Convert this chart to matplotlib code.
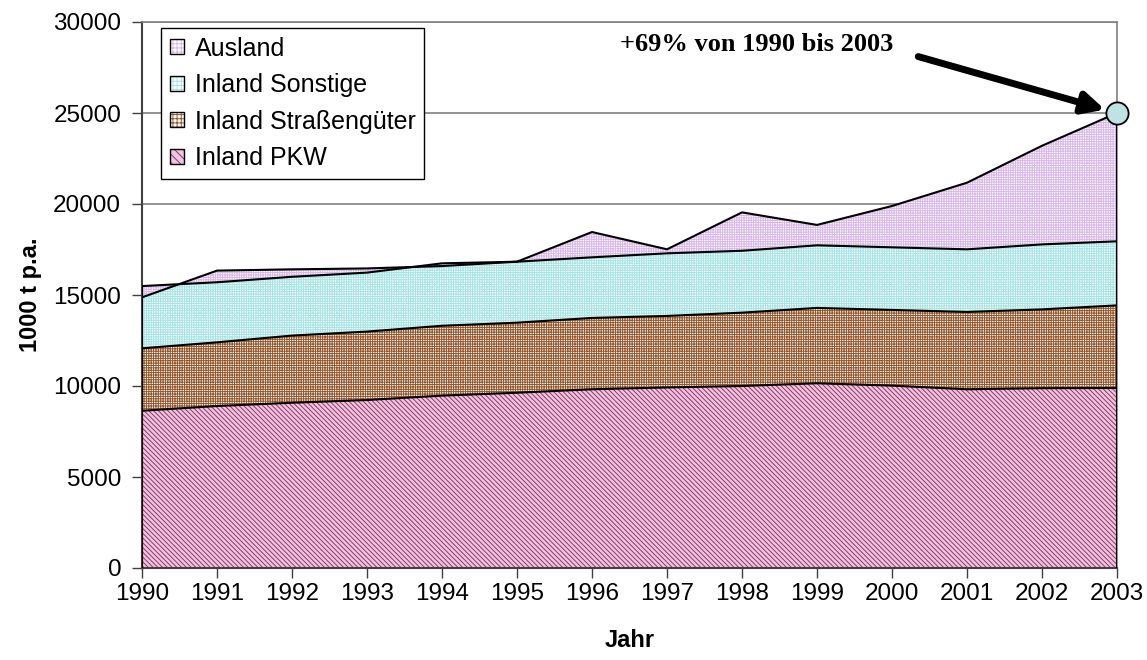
import numpy as np
import matplotlib
matplotlib.use('Agg')
import matplotlib.pyplot as plt
from matplotlib.patches import Patch

# Werte in 1000 t p.a.
years = list(range(1990, 2004))
pkw = [8640, 8900, 9080, 9230, 9470, 9630, 9820, 9920, 10000, 10150, 10020, 9820, 9880, 9890]
strassen = [3430, 3500, 3690, 3760, 3840, 3850, 3920, 3930, 4030, 4140, 4160, 4250, 4330, 4540]
sonstige = [3420, 3300, 3230, 3240, 3430, 3350, 3330, 3440, 3400, 3440, 3440, 3440, 3570, 3520]
ausland = [-620, 640, 410, 230, -150, 0, 1390, 220, 2110, 1120, 2270, 3660, 5420, 7050]
names = ['Inland PKW', 'Inland Straßengüter', 'Inland Sonstige', 'Ausland']
yticks = [0, 5000, 10000, 15000, 20000, 25000, 30000]

plt.rcParams['font.family'] = ['Liberation Sans', 'DejaVu Sans']
plt.rcParams['hatch.linewidth'] = 0.7

fig = plt.figure(figsize=(11.47, 6.6), dpi=100)
ax = fig.add_axes([142 / 1147, 1 - 568 / 660, (1117 - 142) / 1147, (568 - 22) / 660])

x = np.array(years)
series = np.array([pkw, strassen, sonstige, ausland], dtype=float)
tops = np.cumsum(series, axis=0)
bottoms = np.vstack([np.zeros(len(years)), tops[:-1]])

styles = [
    dict(face='#ecc6e0', hatch='\\' * 7, hcol='#993366'),
    dict(face='#ffffff', hatch='+' * 7, hcol='#93562a'),
    dict(face='#ffffff', hatch='+' * 7, hcol='#a6e4e4'),
    dict(face='#ffffff', hatch='+' * 7, hcol='#d8b8e8'),
]

handles = []
for i in range(4):
    st = styles[i]
    ax.fill_between(x, bottoms[i], tops[i], facecolor=st['face'], edgecolor=st['hcol'],
                    hatch=st['hatch'], linewidth=0, zorder=2)
    ax.plot(x, tops[i], color='black', lw=1.5, zorder=3)
    h = (Patch(facecolor=st['face'], edgecolor=st['hcol'], hatch=st['hatch'][:4], lw=0),
         Patch(facecolor='none', edgecolor='black', lw=1))
    handles.append(h)
ax.plot([x[-1], x[-1]], [0, tops[-1][-1]], color='black', lw=1.5, zorder=3)
ax.plot([x[0], x[0]], [0, max(tops[2][0], tops[3][0])], color='black', lw=1.5, zorder=3)

ax.set_xlim(1990, 2003)
ax.set_ylim(0, 30000)
ax.set_xticks(years)
ax.set_yticks(yticks)
ax.tick_params(axis='both', direction='out', length=7, width=1, colors='#404040',
               labelcolor='black', labelsize=17.5)
ax.tick_params(axis='x', pad=4)
ax.tick_params(axis='y', pad=8)
ax.yaxis.grid(True, color='#808080', lw=1.2, zorder=1)
for side in ['top', 'right']:
    ax.spines[side].set_color('#808080')
    ax.spines[side].set_linewidth(1.2)
for side in ['left', 'bottom']:
    ax.spines[side].set_color('#404040')
    ax.spines[side].set_linewidth(1.5)
ax.set_axisbelow(True)

ax.set_xlabel('Jahr', fontsize=17, fontweight='bold', labelpad=17)
ax.set_ylabel('1000 t p.a.', fontsize=17, fontweight='bold', labelpad=8)

leg = ax.legend(handles[::-1], names[::-1], loc='upper left', bbox_to_anchor=(0.0195, 0.989),
                borderaxespad=0, fontsize=18, frameon=True, fancybox=False, framealpha=1,
                edgecolor='black', handlelength=0.55, handleheight=0.55, handletextpad=0.45,
                labelspacing=0.5, borderpad=0.35)
leg.get_frame().set_linewidth(1)
leg.set_zorder(5)

# Markierung 2003
ax.plot([2003], [tops[-1][-1]], 'o', ms=16, mfc='#bfe2e2', mec='black', mew=1.3,
        clip_on=False, zorder=6)
ax.annotate('', xy=(2003, tops[-1][-1]), xytext=(2000.35, 28100),
            arrowprops=dict(arrowstyle='-|>', lw=5, color='black', mutation_scale=32,
                            shrinkA=0, shrinkB=9), zorder=6)
ax.text(1998.2, 28750, '+69% von 1990 bis 2003', fontsize=19, fontweight='bold',
        family=['Liberation Serif', 'DejaVu Serif'], ha='center', va='center', zorder=6)

fig.savefig('out.png', dpi=100)
